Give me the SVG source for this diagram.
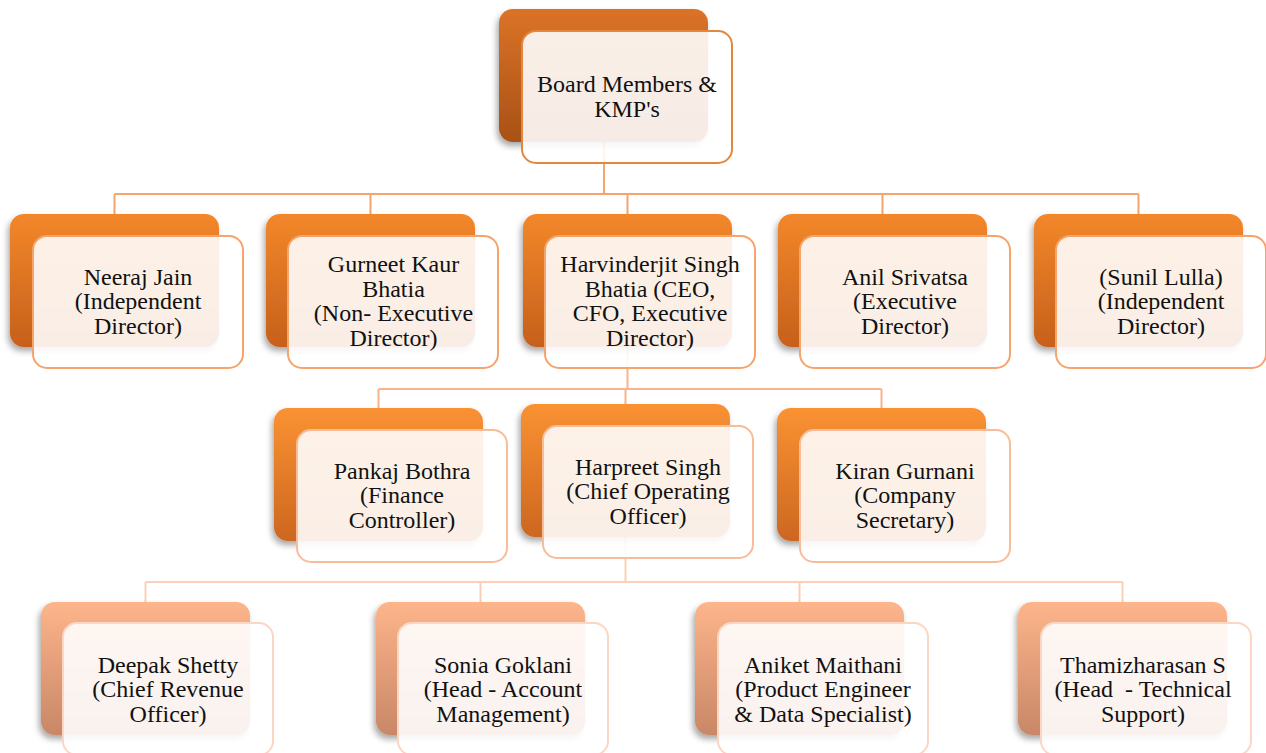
<svg xmlns="http://www.w3.org/2000/svg" width="1266" height="753" viewBox="0 0 1266 753">
<defs>
  <linearGradient id="g1" x1="0" y1="0" x2="0" y2="1">
    <stop offset="0" stop-color="#DB7327"/>
    <stop offset="1" stop-color="#A85116"/>
  </linearGradient>
  <linearGradient id="g2" x1="0" y1="0" x2="0" y2="1">
    <stop offset="0" stop-color="#F3872A"/>
    <stop offset="1" stop-color="#C6601B"/>
  </linearGradient>
  <linearGradient id="g3" x1="0" y1="0" x2="0" y2="1">
    <stop offset="0" stop-color="#FA9232"/>
    <stop offset="1" stop-color="#CC6720"/>
  </linearGradient>
  <linearGradient id="g4" x1="0" y1="0" x2="0" y2="1">
    <stop offset="0" stop-color="#FDB58B"/>
    <stop offset="1" stop-color="#C88767"/>
  </linearGradient>
  <filter id="sh" x="-20%" y="-20%" width="140%" height="150%">
    <feDropShadow dx="-2" dy="4" stdDeviation="3" flood-color="#000" flood-opacity="0.35"/>
  </filter>
</defs>
<style>
  .back { filter: url(#sh); }
  .b1 { fill: url(#g1); }
  .b2 { fill: url(#g2); }
  .b3 { fill: url(#g3); }
  .b4 { fill: url(#g4); }
  .front { fill: #FFFFFF; fill-opacity: 0.89; stroke-width: 2; }
  .f1 { stroke: #E3873F; }
  .f2 { stroke: #F5A46C; }
  .f3 { stroke: #F9BC98; }
  .f4 { stroke: #FCD6C3; }
  .c { fill: none; stroke-width: 2; }
  .c1 { stroke: #F4A56C; }
  .c2 { stroke: #F8B48C; }
  .c3 { stroke: #FBCFB8; }
  .t { font-family: 'Liberation Serif', 'DejaVu Serif', serif; font-size: 24px; fill: #111111; text-anchor: middle; white-space: pre; }
</style>
<rect width="1266" height="753" fill="#FFFFFF"/>

<g id="connectors">
  <path class="c c1" d="M604 142 V194 M114.5 194 H1138.5 M114.5 194 V214 M370.5 194 V214 M627.5 194 V214 M882.5 194 V214 M1138.5 194 V214"/>
  <path class="c c2" d="M627.5 347 V389 M378.5 389 H881.5 M378.5 389 V408 M625.5 389 V404 M881.5 389 V408"/>
  <path class="c c3" d="M625.5 537 V582 M145.5 582 H1122.5 M145.5 582 V602 M480.5 582 V602 M799.5 582 V602 M1122.5 582 V602"/>
</g>

<g id="node-board">
  <rect class="back b1" x="499" y="9" width="209" height="133" rx="14"/>
  <rect class="front f1" x="522" y="31" width="210" height="132" rx="14"/>
  <g class="t" font-family="Liberation Serif, serif">
  <text x="627" y="92">Board Members &amp;</text>
  <text x="627" y="117">KMP's</text>
  </g>
</g>

<g id="node-neeraj">
  <rect class="back b2" x="10" y="214" width="209" height="133" rx="14"/>
  <rect class="front f2" x="33" y="236" width="210" height="132" rx="14"/>
  <g class="t" font-family="Liberation Serif, serif">
  <text x="138" y="285">Neeraj Jain</text>
  <text x="138" y="309">(Independent</text>
  <text x="138" y="334">Director)</text>
  </g>
</g>

<g id="node-gurneet">
  <rect class="back b2" x="266" y="214" width="209" height="133" rx="14"/>
  <rect class="front f2" x="288" y="236" width="210" height="132" rx="14"/>
  <g class="t" font-family="Liberation Serif, serif">
  <text x="393.5" y="272">Gurneet Kaur</text>
  <text x="393.5" y="297">Bhatia</text>
  <text x="393.5" y="321">(Non- Executive</text>
  <text x="393.5" y="346">Director)</text>
  </g>
</g>

<g id="node-harvinderjit">
  <rect class="back b2" x="523" y="214" width="209" height="133" rx="14"/>
  <rect class="front f2" x="545" y="236" width="210" height="132" rx="14"/>
  <g class="t" font-family="Liberation Serif, serif">
  <text x="650" y="272">Harvinderjit Singh</text>
  <text x="650" y="297">Bhatia (CEO,</text>
  <text x="650" y="321">CFO, Executive</text>
  <text x="650" y="346">Director)</text>
  </g>
</g>

<g id="node-anil">
  <rect class="back b2" x="778" y="214" width="209" height="133" rx="14"/>
  <rect class="front f2" x="800" y="236" width="210" height="132" rx="14"/>
  <g class="t" font-family="Liberation Serif, serif">
  <text x="905" y="285">Anil Srivatsa</text>
  <text x="905" y="309">(Executive</text>
  <text x="905" y="334">Director)</text>
  </g>
</g>

<g id="node-sunil">
  <rect class="back b2" x="1034" y="214" width="209" height="133" rx="14"/>
  <rect class="front f2" x="1056" y="236" width="210" height="132" rx="14"/>
  <g class="t" font-family="Liberation Serif, serif">
  <text x="1161" y="285">(Sunil Lulla)</text>
  <text x="1161" y="309">(Independent</text>
  <text x="1161" y="334">Director)</text>
  </g>
</g>

<g id="node-pankaj">
  <rect class="back b3" x="274" y="408" width="209" height="133" rx="14"/>
  <rect class="front f3" x="297" y="430" width="210" height="132" rx="14"/>
  <g class="t" font-family="Liberation Serif, serif">
  <text x="402" y="479">Pankaj Bothra</text>
  <text x="402" y="503">(Finance</text>
  <text x="402" y="528">Controller)</text>
  </g>
</g>

<g id="node-harpreet">
  <rect class="back b3" x="521" y="404" width="209" height="133" rx="14"/>
  <rect class="front f3" x="543" y="426" width="210" height="132" rx="14"/>
  <g class="t" font-family="Liberation Serif, serif">
  <text x="648" y="475">Harpreet Singh</text>
  <text x="648" y="499">(Chief Operating</text>
  <text x="648" y="524">Officer)</text>
  </g>
</g>

<g id="node-kiran">
  <rect class="back b3" x="777" y="408" width="209" height="133" rx="14"/>
  <rect class="front f3" x="800" y="430" width="210" height="132" rx="14"/>
  <g class="t" font-family="Liberation Serif, serif">
  <text x="905" y="479">Kiran Gurnani</text>
  <text x="905" y="503">(Company</text>
  <text x="905" y="528">Secretary)</text>
  </g>
</g>

<g id="node-deepak">
  <rect class="back b4" x="41" y="602" width="209" height="133" rx="14"/>
  <rect class="front f4" x="63" y="623" width="210" height="132" rx="14"/>
  <g class="t" font-family="Liberation Serif, serif">
  <text x="168" y="673">Deepak Shetty</text>
  <text x="168" y="697">(Chief Revenue</text>
  <text x="168" y="722">Officer)</text>
  </g>
</g>

<g id="node-sonia">
  <rect class="back b4" x="376" y="602" width="209" height="133" rx="14"/>
  <rect class="front f4" x="398" y="623" width="210" height="132" rx="14"/>
  <g class="t" font-family="Liberation Serif, serif">
  <text x="503" y="673">Sonia Goklani</text>
  <text x="503" y="697">(Head - Account</text>
  <text x="503" y="722">Management)</text>
  </g>
</g>

<g id="node-aniket">
  <rect class="back b4" x="695" y="602" width="209" height="133" rx="14"/>
  <rect class="front f4" x="718" y="623" width="210" height="132" rx="14"/>
  <g class="t" font-family="Liberation Serif, serif">
  <text x="823" y="673">Aniket Maithani</text>
  <text x="823" y="697">(Product Engineer</text>
  <text x="823" y="722">&amp; Data Specialist)</text>
  </g>
</g>

<g id="node-thamizharasan">
  <rect class="back b4" x="1018" y="602" width="209" height="133" rx="14"/>
  <rect class="front f4" x="1041" y="623" width="210" height="132" rx="14"/>
  <g class="t" font-family="Liberation Serif, serif">
  <text x="1143" y="673">Thamizharasan S</text>
  <text x="1143" y="697" xml:space="preserve">(Head  - Technical</text>
  <text x="1143" y="722">Support)</text>
  </g>
</g>
</svg>
